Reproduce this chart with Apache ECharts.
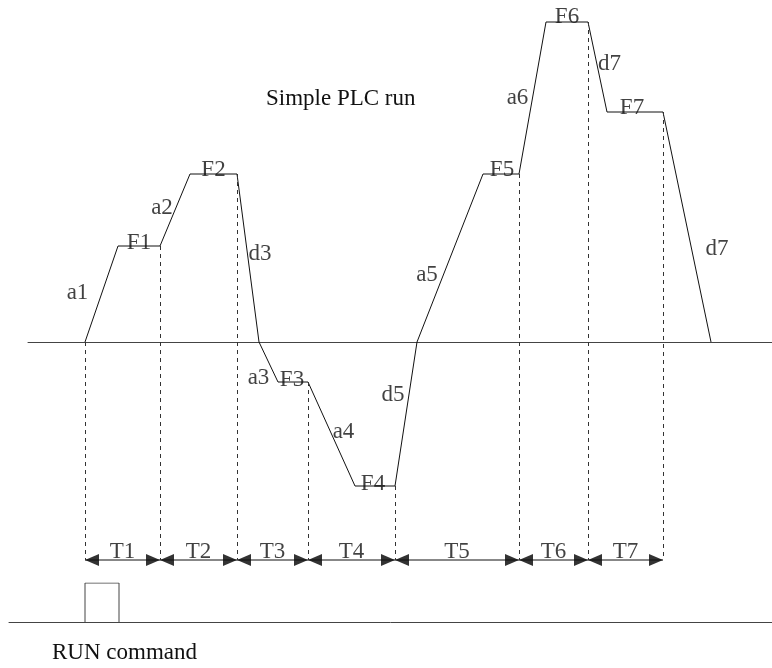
<!DOCTYPE html>
<html lang="en">
<head>
    <meta charset="UTF-8">
    <title>Simple PLC run</title>
    <style>body{margin:0;background:#fff;}</style>
</head>
<body>
<div id="main" style="width: 772px;height:668px;"></div>
<script src="https://cdn.jsdelivr.net/npm/echarts@6/dist/echarts.min.js"></script>
<script>
    // output frequency profile: time (0.1 s units) and frequency
    var profileT = [0, 3.3, 7.5, 10.5, 15.2, 17.4, 19.3, 22.3, 27.0, 31.0, 33.2, 39.8, 43.4, 46.1, 50.3, 52.2, 57.8, 62.6];
    var profileF = [0, 24, 24, 42, 42, 0, -10, -10, -36, -36, 0, 42, 42, 80, 80, 57.5, 57.5, 0];
    // name of each segment between two profile points
    var segNames = ['a1', 'F1', 'a2', 'F2', 'd3', 'a3', 'F3', 'a4', 'F4', 'd5', 'a5', 'F5', 'a6', 'F6', 'd7', 'F7', 'd7'];

    // stages T1..T7: edges in time and the frequency reached at each edge
    var stageNames = ['T1', 'T2', 'T3', 'T4', 'T5', 'T6', 'T7'];
    var stageEdges = [0, 7.5, 15.2, 22.3, 31.0, 43.4, 50.3, 57.8];
    var stageFreq = [0, 24, 42, -10, -36, 42, 80, 57.5];

    // RUN command signal
    var runT = [0, 0, 3.4, 3.4];
    var runLevel = [0, 1, 1, 0];
</script>
<script>
    var FONT = 'Liberation Serif';
    var INK = '#111';
    var ROW = -54.5; // level of the stage arrow row
    // label offsets in px from the middle of each segment
    var segOffsets = [[-24, -1], [0, -3], [-13, -2], [0, -4], [12, -4], [-10, 16], [-1, -2], [12, -2],
        [-2, -2], [-13, -19], [-23, 17], [1, -4], [-15, 0], [0, -5], [12, -3], [-3, -4], [30, 22]];

    var profile = [];
    for (var i = 0; i < profileT.length; i++) {
        profile.push([profileT[i], profileF[i]]);
    }

    var segLabels = [];
    for (var i = 0; i < segNames.length; i++) {
        segLabels.push({
            value: [(profileT[i] + profileT[i + 1]) / 2, (profileF[i] + profileF[i + 1]) / 2],
            name: segNames[i],
            label: {offset: segOffsets[i]}
        });
    }

    var drops = [];
    for (var i = 0; i < stageEdges.length; i++) {
        drops.push([{coord: [stageEdges[i], stageFreq[i]]}, {coord: [stageEdges[i], ROW]}]);
    }

    var leftArrows = [], rightArrows = [], stageLabels = [];
    for (var i = 0; i < stageNames.length; i++) {
        leftArrows.push([stageEdges[i], ROW]);
        rightArrows.push([stageEdges[i + 1], ROW]);
        stageLabels.push({value: [(stageEdges[i] + stageEdges[i + 1]) / 2, ROW], name: stageNames[i]});
    }

    var run = [];
    for (var i = 0; i < runT.length; i++) {
        run.push([runT[i], runLevel[i]]);
    }

    var textStyle = {fontFamily: FONT, fontSize: 23, color: INK};
    var hiddenY = {
        type: 'value', axisLine: {show: false}, axisTick: {show: false},
        axisLabel: {show: false}, splitLine: {show: false}
    };

    var myChart = echarts.init(document.getElementById('main'));
    var option = {
        animation: false,
        backgroundColor: '#fff',
        title: [
            {text: 'Simple PLC run', left: 266, top: 87, padding: 0,
                textStyle: {fontFamily: FONT, fontSize: 23, fontWeight: 'normal', color: INK}},
            {text: 'RUN command', left: 52, top: 641, padding: 0,
                textStyle: {fontFamily: FONT, fontSize: 23, fontWeight: 'normal', color: INK}}
        ],
        grid: [
            {left: 28, right: 0, top: 0, bottom: 0},
            {left: 9, right: 0, top: 583, height: 39}
        ],
        xAxis: [
            {type: 'value', gridIndex: 0, min: -5.7, max: 68.7,
                axisLine: {show: true, onZero: true, lineStyle: {color: '#444', width: 1}},
                axisTick: {show: false}, axisLabel: {show: false}, splitLine: {show: false}},
            {type: 'value', gridIndex: 1, min: -7.6, max: 68.7,
                axisLine: {show: true, onZero: true, lineStyle: {color: '#444', width: 1}},
                axisTick: {show: false}, axisLabel: {show: false}, splitLine: {show: false}}
        ],
        yAxis: [
            Object.assign({gridIndex: 0, min: -81.5, max: 85.5}, hiddenY),
            Object.assign({gridIndex: 1, min: 0, max: 1}, hiddenY)
        ],
        series: [
            {
                name: 'frequency', type: 'line', data: profile, symbol: 'none',
                lineStyle: {color: INK, width: 1},
                markLine: {
                    silent: true, symbol: 'none', label: {show: false},
                    lineStyle: {color: '#333', width: 1, type: [4, 4]},
                    data: drops
                }
            },
            {
                name: 'segment labels', type: 'scatter', data: segLabels, symbolSize: 0,
                label: Object.assign({show: true, position: 'inside', formatter: '{b}'}, textStyle)
            },
            {
                name: 'stage row', type: 'line', symbol: 'none',
                data: [[stageEdges[0], ROW], [stageEdges[stageEdges.length - 1], ROW]],
                lineStyle: {color: INK, width: 1}
            },
            {
                name: 'left arrows', type: 'scatter', data: leftArrows, symbol: 'triangle',
                symbolSize: [12, 14], symbolRotate: 90, symbolOffset: [7, 0],
                itemStyle: {color: '#000'}
            },
            {
                name: 'right arrows', type: 'scatter', data: rightArrows, symbol: 'triangle',
                symbolSize: [12, 14], symbolRotate: -90, symbolOffset: [-7, 0],
                itemStyle: {color: '#000'}
            },
            {
                name: 'stage labels', type: 'scatter', data: stageLabels, symbolSize: 0,
                label: Object.assign({show: true, position: 'inside', offset: [0, -8], formatter: '{b}'}, textStyle)
            },
            {
                name: 'RUN', type: 'line', xAxisIndex: 1, yAxisIndex: 1, data: run, symbol: 'none',
                lineStyle: {color: '#444', width: 1}
            }
        ]
    };
    myChart.setOption(option);
</script>
</body>
</html>
